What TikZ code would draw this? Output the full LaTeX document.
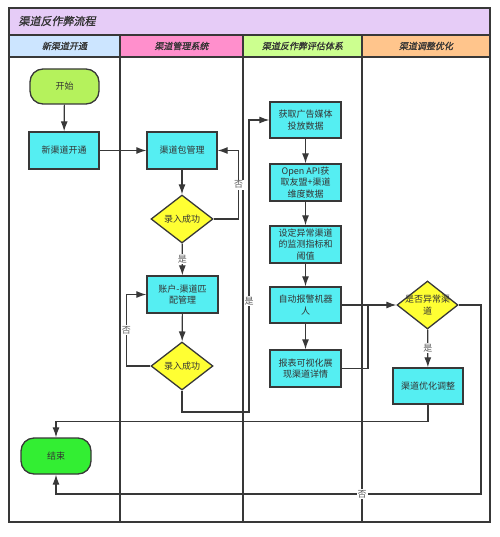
\documentclass[tikz,border=0pt]{standalone}
\usepackage{fontspec}
\setmainfont{Noto Sans CJK SC}
\newfontfamily\slantfont[FakeSlant=0.2,FakeBold=1]{Noto Sans CJK SC}
\usetikzlibrary{arrows.meta,shapes.geometric}

\definecolor{titlepurple}{HTML}{E6CCF7}
\definecolor{headblue}{HTML}{CCE5FF}
\definecolor{headpink}{HTML}{FF8FCC}
\definecolor{headgreen}{HTML}{CCFF8F}
\definecolor{headorange}{HTML}{FFC58C}
\definecolor{boxcyan}{HTML}{55EEF2}
\definecolor{startgreen}{HTML}{B5F25C}
\definecolor{endgreen}{HTML}{33EE33}
\definecolor{decyellow}{HTML}{FFFF33}
\definecolor{linegray}{HTML}{383838}
\definecolor{textgray}{HTML}{333333}

\begin{document}
\begin{tikzpicture}[x=1pt, y=-1pt,
    procbox/.style={draw=linegray, line width=1.3pt, fill=boxcyan, minimum width=70pt,
        minimum height=37pt, inner sep=1pt, align=center, font=\fontsize{9}{11.5}\selectfont,
        text=textgray},
    terminal/.style={procbox, rounded corners=13pt},
    decision/.style={diamond, draw=linegray, line width=1.3pt, fill=decyellow,
        minimum width=62pt, minimum height=48pt, inner sep=0pt},
    dectext/.style={align=center, font=\fontsize{9}{11.5}\selectfont, text=textgray},
    flow/.style={draw=linegray, line width=1.2pt, -{Latex[length=10pt,width=7pt]}},
    plainline/.style={draw=linegray, line width=1.2pt},
    answer/.style={fill=white, inner sep=1pt, font=\fontsize{9}{10}\selectfont, text=textgray!80},
    lanehead/.style={font=\slantfont\fontsize{9}{10}\selectfont, text=textgray}]
    \useasboundingbox (0,0) rectangle (499,537);

    % Lanes
    \fill[titlepurple] (9,8) rectangle (490,35);
    \fill[headblue] (9,35) rectangle (120,57);
    \fill[headpink] (120,35) rectangle (243,57);
    \fill[headgreen] (243,35) rectangle (362,57);
    \fill[headorange] (362,35) rectangle (490,57);
    \draw[linegray, line width=1.3pt] (9,8) rectangle (490,522);
    \draw[linegray, line width=1.3pt] (9,35) -- (490,35);
    \draw[linegray, line width=1.3pt] (9,57) -- (490,57);
    \foreach \x in {120,243,362}
        \draw[linegray, line width=1.3pt] (\x,35) -- (\x,522);

    % Titles
    \node[anchor=west, font=\slantfont\fontsize{11}{12}\selectfont, text=textgray] (title) at (15,21) {渠道反作弊流程};
    \node[lanehead] (head1) at (64.5,46) {新渠道开通};
    \node[lanehead] (head2) at (181.5,46) {渠道管理系统};
    \node[lanehead] (head3) at (302.5,46) {渠道反作弊评估体系};
    \node[lanehead] (head4) at (426,46) {渠道调整优化};

    % Steps
    \node[terminal, fill=startgreen, minimum width=69pt, minimum height=35pt] (start) at (64.5,86.5) {开始};
    \node[procbox] (newchan) at (64,150.5) {新渠道开通};
    \node[procbox] (pkg) at (182,150.5) {渠道包管理};
    \node[decision, label={[dectext]center:录入成功}] (check1) at (182,219) {};
    \node[procbox, minimum width=71pt] (match) at (182.5,294.5) {账户-渠道匹\\配管理};
    \node[decision, label={[dectext]center:录入成功}] (check2) at (182,366) {};
    \node[procbox, minimum width=71pt, minimum height=36pt] (fetch) at (305.5,120) {获取广告媒体\\投放数据};
    \node[procbox, minimum width=71pt] (openapi) at (305.5,182.5) {Open API获\\取友盟+渠道\\维度数据};
    \node[procbox, minimum width=71pt] (metric) at (305.5,244.5) {设定异常渠道\\的监测指标和\\阈值};
    \node[procbox, minimum width=71pt, minimum height=36pt] (alarm) at (305.5,305) {自动报警机器\\人};
    \node[procbox, minimum width=71pt] (report) at (305.5,368.5) {报表可视化展\\现渠道详情};
    \node[decision, minimum width=61pt, label={[dectext]center:是否异常渠\\道}] (check3) at (427.5,305) {};
    \node[procbox, minimum height=36pt] (optimize) at (428,386) {渠道优化调整};
    \node[terminal, fill=endgreen, minimum height=36pt] (finish) at (56,456) {结束};

    \coordinate (yesbend) at (249,412);
    \coordinate (join) at (368,305);
    \coordinate (nobend) at (481,494);

    % Connectors
    \draw[flow] (start) -- (newchan);
    \draw[flow] (newchan) -- (pkg);
    \draw[flow] (pkg) -- (check1);
    \draw[flow] (check1.east) -- ++(25,0) |- (pkg.east) node[answer, pos=0.25] {否};
    \draw[flow] (check1) -- node[answer] {是} (match);
    \draw[flow] (match) -- (check2);
    \draw[flow] (check2.west) -- ++(-24,0) |- (match.west) node[answer, pos=0.25] {否};
    \draw[flow] (check2.south) |- (yesbend) |- (fetch.west) node[answer, pos=0.19] {是};
    \draw[flow] (fetch) -- (openapi);
    \draw[flow] (openapi) -- (metric);
    \draw[flow] (metric) -- (alarm);
    \draw[flow] (alarm) -- (report);
    \draw[flow] (alarm) -- (check3);
    \draw[plainline] (report.east) -| (join);
    \draw[flow] (check3) -- node[answer] {是} (optimize);
    \draw[flow] (optimize.south) -- ++(0,17) -| (finish.north);
    \draw[flow] (check3.east) -| (nobend) -| (finish.south) node[answer, pos=0.14] {否};
\end{tikzpicture}
\end{document}
